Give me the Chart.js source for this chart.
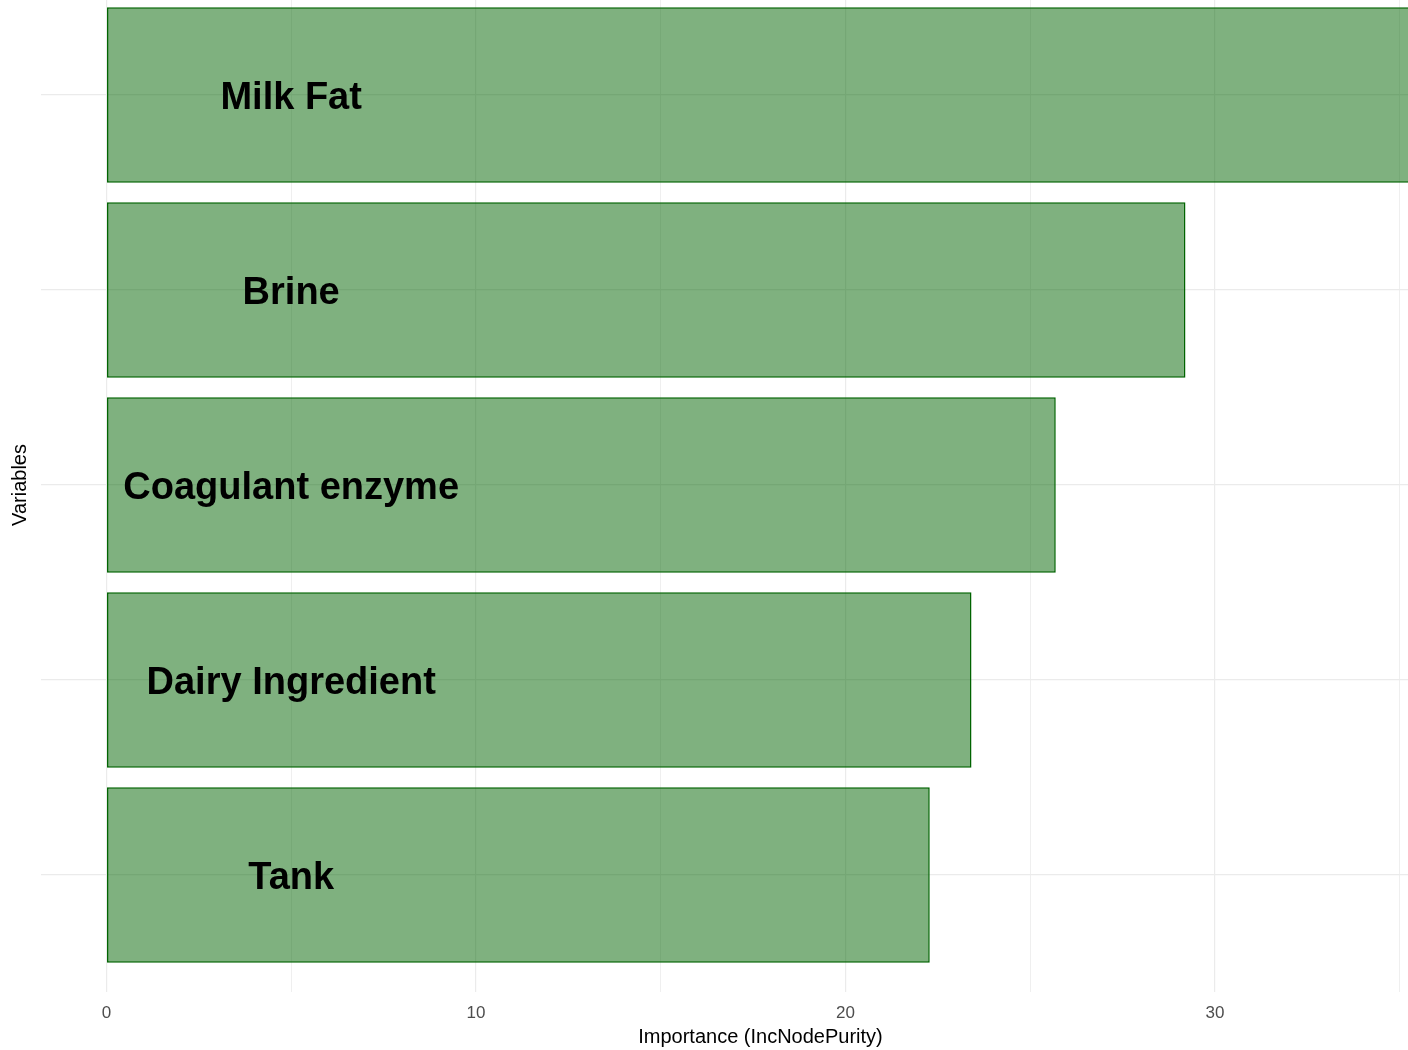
<!DOCTYPE html>
<html>
<head>
<meta charset="utf-8">
<script src="https://cdn.jsdelivr.net/npm/chart.js@4"></script>
<style>
  html, body { margin: 0; padding: 0; background: #fff; overflow: hidden; }
  #wrap { position: relative; width: 1408px; height: 1050px; overflow: hidden; }
  #imp { position: absolute; left: 0; top: -22px; }
</style>
</head>
<body>
<div id="wrap"><canvas id="imp" width="1480" height="1072"></canvas></div>
<script>
"use strict"

// bottom to top, like the factor order in the plot
const variables = ["Tank", "Dairy Ingredient", "Coagulant enzyme", "Brine", "Milk Fat"];
const importance = [22.28, 23.41, 25.69, 29.2, 35.4];

const xTickLabels = [0, 10, 20, 30];
const xGridValues = [0, 5, 10, 15, 20, 25, 30, 35];

const fontFamily = "'Liberation Sans', Arial, sans-serif";

// names written inside the bars
const barNames = {
    id: 'barNames',
    afterDatasetsDraw(chart) {
        const ctx = chart.ctx;
        const xs = chart.scales.x;
        const ys = chart.scales.y;
        ctx.save();
        ctx.font = "bold 38px " + fontFamily;
        ctx.fillStyle = '#000';
        ctx.textAlign = 'center';
        ctx.textBaseline = 'middle';
        variables.forEach((name, i) => {
            ctx.fillText(name, xs.getPixelForValue(5), ys.getPixelForValue(i) + 4);
        });
        ctx.restore();
    }
};

new Chart("imp", {
    type: "bar",
    data: {
        datasets: [{
            data: importance.map((v, i) => ({ x: v, y: i })),
            backgroundColor: 'rgba(0, 100, 0, 0.5)',
            borderColor: '#006400',
            borderWidth: 1.5,
            borderSkipped: false,
            barPercentage: 0.9,
            categoryPercentage: 1.0
        }]
    },
    options: {
        indexAxis: 'y',
        responsive: false,
        animation: false,
        layout: { padding: 0 },
        plugins: {
            legend: { display: false },
            tooltip: { enabled: false }
        },
        scales: {
            x: {
                type: 'linear',
                position: 'bottom',
                min: -1.77,
                max: 37.17,
                afterBuildTicks: scale => { scale.ticks = xGridValues.map(v => ({ value: v })); },
                afterFit: scale => { scale.height = 58; },
                border: { display: false },
                grid: {
                    color: '#ebebeb',
                    lineWidth: c => (c.tick && c.tick.value % 10 === 0) ? 1.2 : 0.8,
                    drawTicks: false
                },
                ticks: {
                    autoSkip: false,
                    maxRotation: 0,
                    padding: 11,
                    color: '#4d4d4d',
                    font: { family: fontFamily, size: 17 },
                    callback: v => xTickLabels.includes(v) ? String(v) : ''
                },
                title: {
                    display: true,
                    text: 'Importance (IncNodePurity)',
                    color: '#000',
                    padding: 1,
                    font: { family: fontFamily, size: 20 }
                }
            },
            y: {
                type: 'linear',
                min: -0.6,
                max: 4.6,
                offset: false,
                afterBuildTicks: scale => { scale.ticks = variables.map((v, i) => ({ value: i })); },
                afterFit: scale => { scale.width = 41; },
                border: { display: false },
                grid: { color: '#ebebeb', lineWidth: 1.2, drawTicks: false, offset: false },
                ticks: { display: false },
                title: {
                    display: true,
                    text: 'Variables',
                    color: '#000',
                    padding: 8,
                    font: { family: fontFamily, size: 20 }
                }
            }
        }
    },
    plugins: [barNames]
});
</script>
</body>
</html>
